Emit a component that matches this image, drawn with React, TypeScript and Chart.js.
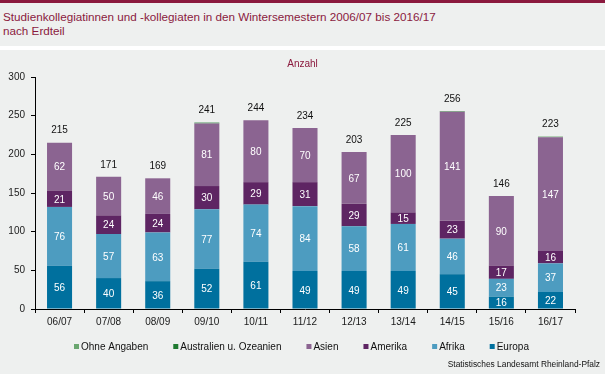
import React, { useEffect, useRef } from "react";
import { Chart, registerables } from "chart.js";

Chart.register(...registerables);

const categories = ["06/07", "07/08", "08/09", "09/10", "10/11", "11/12", "12/13", "13/14", "14/15", "15/16", "16/17"];
const europa = [56, 40, 36, 52, 61, 49, 49, 49, 45, 16, 22];
const afrika = [76, 57, 63, 77, 74, 84, 58, 61, 46, 23, 37];
const amerika = [21, 24, 24, 30, 29, 31, 29, 15, 23, 17, 16];
const asien = [62, 50, 46, 81, 80, 70, 67, 100, 141, 90, 147];
const australien = [0, 0, 0, 1, 0, 0, 0, 0, 0, 0, 0];
const ohneAngaben = [0, 0, 0, 0, 0, 0, 0, 0, 1, 0, 1];
const yMin = 0;
const yMax = 300;
const yStep = 50;

const FONT = "'Liberation Sans', Arial, sans-serif";
const DARK_RED = "#8b1a3e";

const overlayPlugin = {
  id: "overlay",
  afterDatasetsDraw(chart: any) {
    const ctx = chart.ctx;
    const yScale = chart.scales.y;
    ctx.save();
    ctx.textAlign = "center";
    ctx.textBaseline = "middle";
    ctx.font = `10px ${FONT}`;
    chart.data.datasets.forEach((ds: any, di: number) => {
      const meta = chart.getDatasetMeta(di);
      meta.data.forEach((bar: any, i: number) => {
        const v = ds.data[i];
        if (v >= 5) {
          ctx.fillStyle = "#ffffff";
          ctx.fillText(String(v), bar.x, (bar.y + bar.base) / 2 + 1);
        }
      });
    });
    const meta0 = chart.getDatasetMeta(0);
    categories.forEach((_c, i) => {
      let total = 0;
      chart.data.datasets.forEach((ds: any) => (total += ds.data[i]));
      const x = meta0.data[i].x;
      const y = yScale.getPixelForValue(total) - 12;
      ctx.fillStyle = "#111111";
      ctx.fillText(String(total), x, y);
    });
    ctx.restore();
  },
  afterDraw(chart: any) {
    const ctx = chart.ctx;
    ctx.save();
    ctx.textBaseline = "middle";
    // Anzahl
    ctx.font = `10px ${FONT}`;
    ctx.fillStyle = DARK_RED;
    ctx.textAlign = "center";
    ctx.fillText("Anzahl", chart.width / 2, 14);
    // Legend
    ctx.textAlign = "left";
    ctx.font = `10px ${FONT}`;
    let x = 74;
    const y = 297;
    const items = [...chart.data.datasets].reverse();
    items.forEach((ds: any) => {
      ctx.fillStyle = ds.backgroundColor;
      ctx.fillRect(x, y - 3, 5, 5);
      ctx.fillStyle = "#111111";
      ctx.fillText(ds.label, x + 7, y);
      x += 7 + ctx.measureText(ds.label).width + 25;
    });
    // Footer
    ctx.font = `8.4px ${FONT}`;
    ctx.textAlign = "right";
    ctx.fillStyle = "#111111";
    ctx.fillText("Statistisches Landesamt Rheinland-Pfalz", 600, 315);
    ctx.restore();
  },
};

export default function App() {
  const canvasRef = useRef<HTMLCanvasElement | null>(null);

  useEffect(() => {
    document.body.style.margin = "0";
    const canvas = canvasRef.current;
    if (!canvas) return;
    const chart = new Chart(canvas, {
      type: "bar",
      data: {
        labels: categories,
        datasets: [
          { label: "Europa", data: europa, backgroundColor: "#00709e" },
          { label: "Afrika", data: afrika, backgroundColor: "#4d9cc0" },
          { label: "Amerika", data: amerika, backgroundColor: "#5e2563" },
          { label: "Asien", data: asien, backgroundColor: "#8b6491" },
          { label: "Australien u. Ozeanien", data: australien, backgroundColor: "#1f7a30" },
          { label: "Ohne Angaben", data: ohneAngaben, backgroundColor: "#6aa66f" },
        ],
      },
      options: {
        responsive: false,
        animation: false,
        layout: { padding: { top: 27, right: 30, bottom: 40, left: 0 } },
        datasets: { bar: { barPercentage: 0.51, categoryPercentage: 1, borderWidth: 0 } },
        plugins: {
          legend: { display: false },
          title: { display: false },
          tooltip: { enabled: false },
        },
        scales: {
          x: {
            stacked: true,
            afterFit: (s: any) => {
              s.height = 25;
            },
            grid: {
              offset: true,
              drawOnChartArea: false,
              drawTicks: true,
              tickLength: 4,
              color: "#000000",
            },
            border: { display: true, color: "#000000", width: 1 },
            ticks: {
              color: "#1a1a1a",
              font: { family: FONT, size: 10 },
              padding: 3,
              maxRotation: 0,
              autoSkip: false,
            },
          },
          y: {
            stacked: true,
            min: yMin,
            max: yMax,
            afterFit: (s: any) => {
              s.width = 35;
            },
            grid: {
              drawOnChartArea: false,
              drawTicks: true,
              tickLength: 4,
              color: "#000000",
            },
            border: { display: true, color: "#000000", width: 1 },
            ticks: {
              stepSize: yStep,
              color: "#1a1a1a",
              font: { family: FONT, size: 10 },
              padding: 6,
            },
          },
        },
      },
      plugins: [overlayPlugin],
    });
    return () => chart.destroy();
  }, []);

  return (
    <div
      style={{
        position: "relative",
        width: 605,
        height: 374,
        background: "#eef0ef",
        overflow: "hidden",
        fontFamily: FONT,
      }}
    >
      <div style={{ position: "absolute", left: 0, top: 0, width: 605, height: 3, background: DARK_RED }} />
      <div
        style={{
          position: "absolute",
          left: 3,
          top: 10,
          fontSize: "11.7px",
          lineHeight: "14px",
          color: DARK_RED,
          whiteSpace: "nowrap",
        }}
      >
        Studienkollegiatinnen und -kollegiaten in den Wintersemestern 2006/07 bis 2016/17
        <br />
        nach Erdteil
      </div>
      <div style={{ position: "absolute", left: 0, top: 46, width: 605, height: 4, background: "#ffffff" }} />
      <canvas
        ref={canvasRef}
        width={605}
        height={324}
        style={{ position: "absolute", left: 0, top: 50, width: 605, height: 324 }}
      />
    </div>
  );
}
